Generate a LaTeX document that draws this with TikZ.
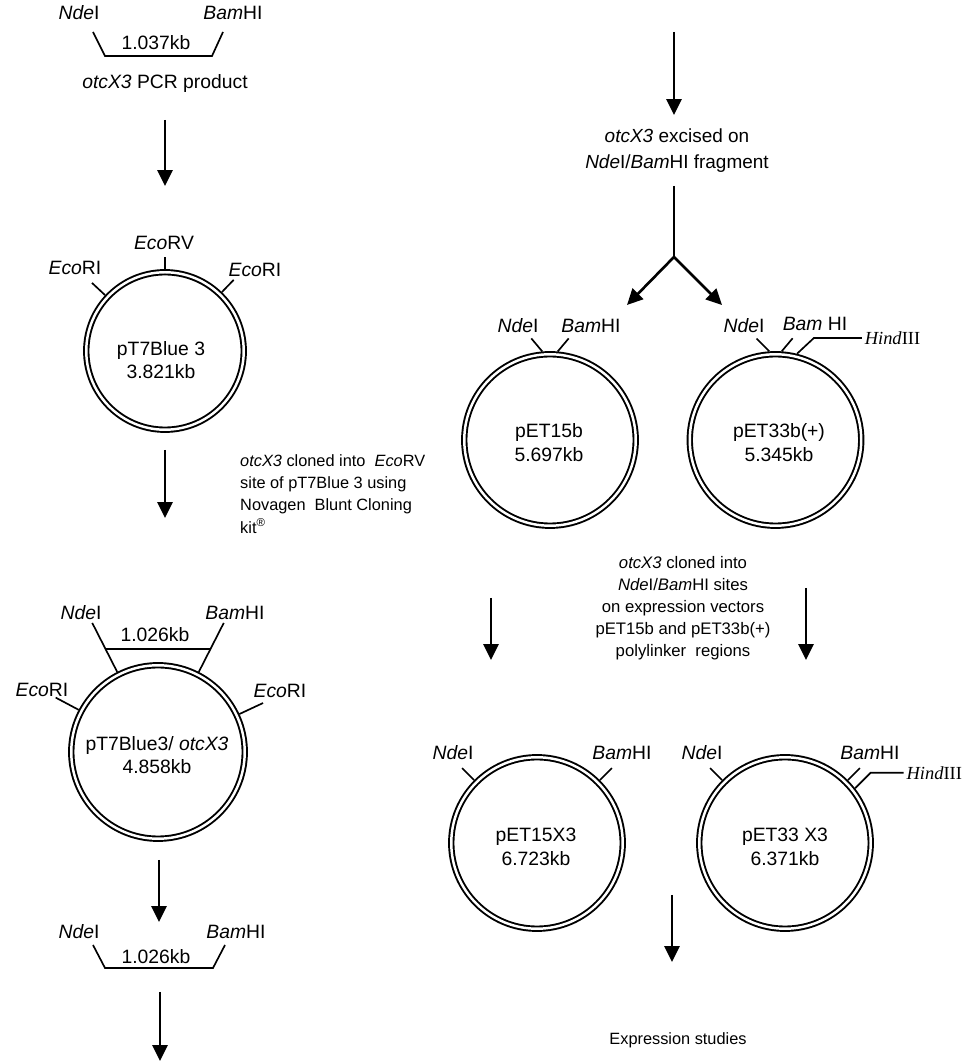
\documentclass[tikz,border=0pt]{standalone}
\usepackage{fontspec}
\setmainfont{Liberation Sans}
\newfontfamily\timesfont{Liberation Serif}
\usetikzlibrary{arrows.meta,calc}

\begin{document}
\begin{tikzpicture}[x=0.02cm, y=0.02cm,
  font=\fontsize{11}{13.3}\selectfont,
  plasmid/.style={shape=circle, draw=black, double, double distance=1.4pt, line width=1.1pt, inner sep=0pt, outer sep=1.8pt, minimum size=#1},
  site/.style={inner sep=1pt},
  tick/.style={line width=0.95pt},
  flow/.style={-{Triangle[length=9pt,width=8.5pt]}, line width=1.6pt},
  fork/.style={-{Triangle[length=9pt,width=8.5pt]}, line width=1.5pt},
  hind/.style={font=\fontsize{10.5}{12}\timesfont, inner sep=1.5pt},
  note/.style={font=\fontsize{9.3}{12.6}\selectfont}]

\useasboundingbox (0,0) rectangle (980,1063);

% PCR product
\node[site](nde1) at (79,1050) {\textit{Nde}I};
\node[site](bam1) at (233,1050) {\textit{Bam}HI};
\node(len1) at (156,1020) {1.037kb};
\node(pcr) at (165,979) {\textit{otcX3} PCR product};
\draw[tick] (93,1031) -- (105,1007) -- (212,1007) -- (223,1031);

\coordinate(a1s) at (165,943);
\coordinate(a1e) at (165,877);
\path[flow] (a1s) edge (a1e);

% pT7Blue 3
\node[plasmid=3.15cm](pt7) at (165,712) {};
\node[align=center](pt7txt) at (161,703) {pT7Blue 3\\3.821kb};
\draw[tick] (pt7.90) -- ++(90:12);
\draw[tick] (pt7.137) -- ++(137:18);
\draw[tick] (pt7.46) -- ++(46:17);
\node[site](ecorv) at (164,820) {\textit{Eco}RV};
\node[site](ecoa) at (75,795) {\textit{Eco}RI};
\node[site](ecob) at (255,793) {\textit{Eco}RI};

\coordinate(a2s) at (165,613);
\coordinate(a2e) at (165,545);
\path[flow] (a2s) edge (a2e);
\node[note, align=left, anchor=west](clone1) at (234,569) {\textit{otcX3} cloned into\ \ \textit{Eco}RV\\site of pT7Blue 3 using\\Novagen\ \ Blunt Cloning\\kit\textsuperscript{®}};

% pT7Blue3/otcX3
\node[plasmid=3.47cm](pt7x) at (158,311) {};
\node[align=center](pt7xtxt) at (157,308) {pT7Blue3/ \textit{otcX3}\\4.858kb};
\draw[tick] (pt7x.117) -- ++(117:55);
\draw[tick] (pt7x.63) -- ++(63:55);
\draw[tick] ($(pt7x.117)+(117:25.6)$) -- ($(pt7x.63)+(63:25.6)$);
\draw[tick] (pt7x.152) -- ++(152:26);
\draw[tick] (pt7x.25) -- ++(25:26);
\node[site](nde2) at (81,450) {\textit{Nde}I};
\node[site](bam2) at (235,450) {\textit{Bam}HI};
\node(len2) at (155,428) {1.026kb};
\node[site](ecoc) at (42,373) {\textit{Eco}RI};
\node[site](ecod) at (280,372) {\textit{Eco}RI};

\coordinate(a3s) at (159,203);
\coordinate(a3e) at (159,141);
\path[flow] (a3s) edge (a3e);

% excised fragment
\node[site](nde3) at (79,131) {\textit{Nde}I};
\node[site](bam3) at (236,131) {\textit{Bam}HI};
\node(len3) at (156,106) {1.026kb};
\draw[tick] (93,118) -- (105,95) -- (213,95) -- (225,118);

\coordinate(a4s) at (160,71);
\coordinate(a4e) at (160,2);
\path[flow] (a4s) edge (a4e);

% right column
\coordinate(b1s) at (674,1031);
\coordinate(b1e) at (674,948);
\path[flow] (b1s) edge (b1e);
\node[align=center, font=\fontsize{10.8}{14.5}\selectfont](excise) at (677,912.5) {\textit{otcX3} excised on\\\textit{Nde}I/\textit{Bam}HI fragment};

\coordinate(stem) at (674,877);
\coordinate(split) at (674,806);
\coordinate(to15) at (627,758);
\coordinate(to33) at (722,758);
\draw[line width=0.8pt] (stem) -- (split);
\path[fork] (split) edge (to15) edge (to33);

% pET15b
\node[plasmid=3.43cm](p15) at (550,623) {};
\node[align=center](p15txt) at (549,620.5) {pET15b\\5.697kb};
\draw[tick] (p15.95) -- ++(130:17);
\draw[tick] (p15.85) -- ++(50:17);
\node[site](nde4) at (518,737) {\textit{Nde}I};
\node[site](bam4) at (591,737) {\textit{Bam}HI};

% pET33b(+)
\node[plasmid=3.43cm](p33) at (775.5,623) {};
\node[align=center](p33txt) at (779,620.5) {pET33b(+)\\5.345kb};
\draw[tick] (p33.94) -- ++(135:18);
\draw[tick] (p33.86) -- ++(50:17);
\draw[tick] (p33.76) -- ++(43:23) -- ++(48,0) coordinate(h33end);
\node[site](nde5) at (744,737) {\textit{Nde}I};
\node[site](bam5) at (815,739) {\textit{Bam} HI};
\node[hind, anchor=west](hind1) at (h33end) {\textit{Hind}III};

\node[note, align=center, font=\fontsize{9.5}{12.5}\selectfont](clone2) at (683,454.5) {\textit{otcX3} cloned into\\\textit{Nde}I/\textit{Bam}HI sites\\on expression vectors\\pET15b and pET33b(+)\\polylinker\ \ regions};

\coordinate(c1s) at (491,465);
\coordinate(c1e) at (491,403);
\coordinate(c2s) at (806,475);
\coordinate(c2e) at (806,403);
\path[flow] (c1s) edge (c1e);
\path[flow] (c2s) edge (c2e);

% pET15X3
\node[plasmid=3.43cm](x15) at (537,220) {};
\node[align=center](x15txt) at (536,216) {pET15X3\\6.723kb};
\draw[tick] (x15.135) -- ++(135:17);
\draw[tick] (x15.45) -- ++(45:17);
\node[site](nde6) at (453,310) {\textit{Nde}I};
\node[site](bam6) at (622,310) {\textit{Bam}HI};

% pET33 X3
\node[plasmid=3.43cm](x33) at (785,220) {};
\node[align=center](x33txt) at (785,216) {pET33 X3\\6.371kb};
\draw[tick] (x33.135) -- ++(135:17);
\draw[tick] (x33.45) -- ++(45:17);
\draw[tick] (x33.38) -- ++(45:22) -- ++(33,0) coordinate(h33xend);
\node[site](nde7) at (702,310) {\textit{Nde}I};
\node[site](bam7) at (870,310) {\textit{Bam}HI};
\node[hind, anchor=west](hind2) at (h33xend) {\textit{Hind}III};

\coordinate(d1s) at (672,168);
\coordinate(d1e) at (672,101);
\path[flow] (d1s) edge (d1e);
\node[font=\fontsize{9.3}{11}\selectfont](expr) at (678,23) {Expression studies};
\end{tikzpicture}
\end{document}
